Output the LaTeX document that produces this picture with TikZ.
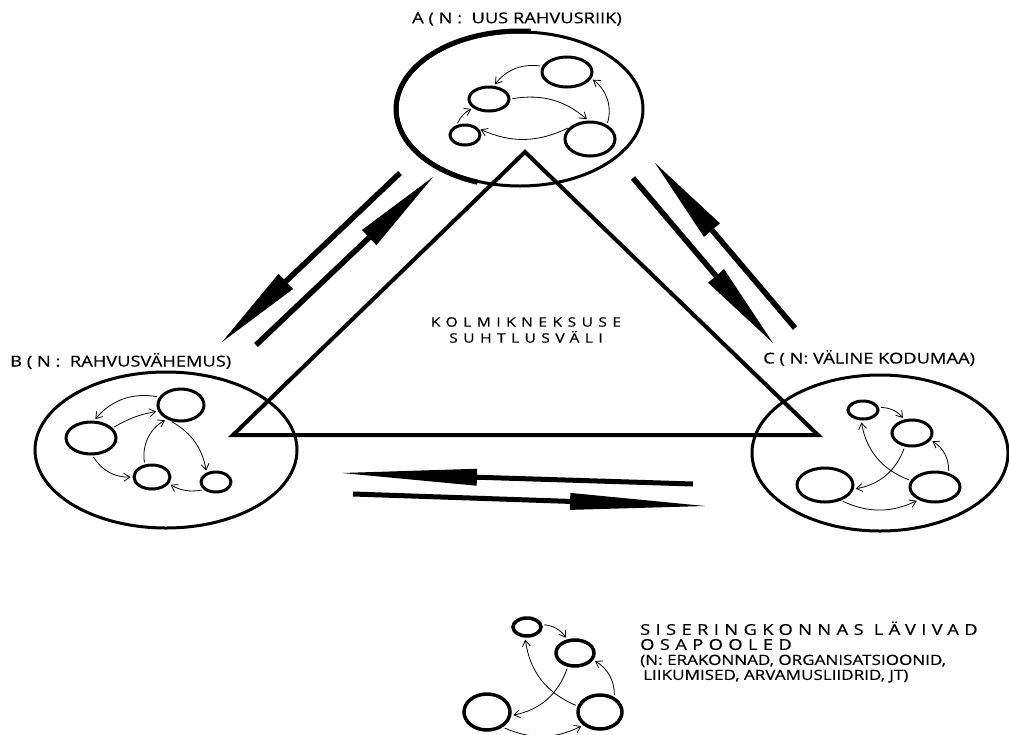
\documentclass[tikz,border=0pt]{standalone}
\usepackage{fontspec}
\usetikzlibrary{shapes.geometric,arrows.meta}
\newfontfamily\labfont[FakeStretch=1.22,FakeBold=0.4]{Open Sans}
\newfontfamily\spacefont[FakeStretch=1.22,FakeBold=0.4,LetterSpace=36]{Open Sans}
\newfontfamily\midfont[FakeStretch=1.2,FakeBold=0.4,LetterSpace=42]{Open Sans}

\tikzset{
  sphere/.style={ellipse, draw, line width=3pt, inner sep=0pt},
  ring/.style={ellipse, draw, line width=3pt, inner sep=0pt},
  swirl/.style={line width=0.8pt, -{Straight Barb[length=6pt,width=8pt]}, shorten <=2pt, shorten >=2pt},
  flow/.style={line width=5.5pt, -{Triangle[length=88pt,width=21pt,line width=0pt]}},
  longflow/.style={line width=5pt, -{Triangle[length=135pt,width=17pt,line width=0pt]}},
  lab/.style={font=\labfont\fontsize{15}{17}\selectfont, inner sep=0pt},
}

\begin{document}
\begin{tikzpicture}[x=1pt, y=1pt]
  \useasboundingbox (0,0) rectangle (1009,-734);

  % the three parties
  \node[sphere, minimum width=246pt, minimum height=154pt] (A) at (520,-109) {};
  \draw[line width=5pt] (A.center) ++(85:124pt and 78pt)
    arc[start angle=85, end angle=250, x radius=124pt, y radius=78pt];
  \node[sphere, minimum width=262pt, minimum height=156pt] (B) at (166,-450) {};
  \node[sphere, minimum width=256pt, minimum height=156pt] (C) at (880,-453) {};

  \node[lab] (Alab) at (517,-19) {A ( N :\ \ UUS RAHVUSRIIK)};
  \node[lab, anchor=west] (Blab) at (10,-361) {B ( N :\ \ RAHVUSVÄHEMUS)};
  \node[lab, anchor=west] (Clab) at (763,-358) {C ( N: VÄLINE KODUMAA)};

  % triangle
  \coordinate (tri-t) at (525,-152);
  \coordinate (tri-l) at (233,-435);
  \coordinate (tri-r) at (818,-435);
  \draw[line width=4pt, line join=miter] (tri-t) -- (tri-l) -- (tri-r) -- cycle;
  \node[font=\midfont\fontsize{13}{16}\selectfont, align=center, inner sep=0pt] (space) at (526,-330)
    {KOLMIKNEKSUSE\\SUHTLUSVÄLI};

  % relations
  \coordinate (ab0) at (400,-173); \coordinate (ab1) at (222,-342);
  \coordinate (ba0) at (256,-345); \coordinate (ba1) at (433,-177);
  \coordinate (ac0) at (633,-178); \coordinate (ac1) at (773,-343);
  \coordinate (ca0) at (795,-328); \coordinate (ca1) at (655,-163);
  \coordinate (cb0) at (693,-484); \coordinate (cb1) at (342,-473);
  \coordinate (bc0) at (353,-494); \coordinate (bc1) at (705,-506);
  \draw[flow] (ab0) -- (ab1);
  \draw[flow] (ba0) -- (ba1);
  \draw[flow] (ac0) -- (ac1);
  \draw[flow] (ca0) -- (ca1);
  \draw[longflow] (cb0) -- (cb1);
  \draw[longflow] (bc0) -- (bc1);

  % inner circles of A
  \node[ring, minimum width=50pt, minimum height=30pt] (A1) at (567,-72) {};
  \node[ring, minimum width=40pt, minimum height=24pt] (A2) at (489,-99) {};
  \node[ring, minimum width=30pt, minimum height=20pt] (A3) at (465,-135) {};
  \node[ring, minimum width=50pt, minimum height=34pt] (A4) at (590,-139) {};
  \draw[swirl] (A1.167) to[bend right=30] (A2.70);
  \draw[swirl] (A2.0) to[bend left=25] (A4.95);
  \draw[swirl] (A4.150) to[bend left=25] (A3.25);
  \draw[swirl] (A4.40) to[bend right=35] (A1.-15);
  \draw[swirl] (A3.130) to[bend left=20] (A2.210);

  % inner circles of B
  \node[ring, minimum width=46pt, minimum height=32pt] (B1) at (181,-405) {};
  \node[ring, minimum width=50pt, minimum height=32pt] (B2) at (91,-438) {};
  \node[ring, minimum width=36pt, minimum height=24pt] (B3) at (152,-477) {};
  \node[ring, minimum width=30pt, minimum height=20pt] (B4) at (216,-482) {};
  \draw[swirl] (B1.160) to[bend right=30] (B2.80);
  \draw[swirl] (B2.25) to[bend left=10] (B1.195);
  \draw[swirl] (B3.120) to[bend left=35] (B1.225);
  \draw[swirl] (B1.235) to[bend left=25] (B4.135);
  \draw[swirl] (B2.-85) to[bend right=30] (B3.180);
  \draw[swirl] (B4.212) to[bend left=20] (B3.-22);

  % inner circles of C
  \node[ring, minimum width=30pt, minimum height=18pt] (C1) at (863,-410) {};
  \node[ring, minimum width=40pt, minimum height=26pt] (C2) at (912,-433) {};
  \node[ring, minimum width=56pt, minimum height=34pt] (C3) at (825,-485) {};
  \node[ring, minimum width=50pt, minimum height=30pt] (C4) at (935,-487) {};
  \draw[swirl] (C1.9) to[bend left=25] (C2.120);
  \draw[swirl] (C4.165) to[bend left=30] (C1.-100);
  \draw[swirl] (C2.242) to[bend left=30] (C3.-8);
  \draw[swirl] (C4.46) to[bend right=30] (C2.-21);
  \draw[swirl] (C3.-44) to[bend right=25] (C4.218);

  % legend
  \node[ring, line width=3.5pt, minimum width=28pt, minimum height=18pt] (L1) at (527,-627) {};
  \node[ring, line width=3.5pt, minimum width=38pt, minimum height=26pt] (L2) at (575,-653) {};
  \node[ring, line width=3.5pt, minimum width=46pt, minimum height=36pt] (L3) at (487,-712) {};
  \node[ring, line width=3.5pt, minimum width=44pt, minimum height=34pt] (L4) at (600,-712) {};
  \draw[swirl] (L1.9) to[bend left=25] (L2.120);
  \draw[swirl] (L4.165) to[bend left=30] (L1.-100);
  \draw[swirl] (L2.242) to[bend left=30] (L3.-8);
  \draw[swirl] (L4.46) to[bend right=30] (L2.-21);
  \draw[swirl] (L3.-44) to[bend right=25] (L4.218);
  \node[font=\labfont\fontsize{14}{15}\selectfont, align=left, anchor=west, inner sep=0pt] (legtext) at (640,-652)
    {{\spacefont\fontsize{15}{15}\selectfont SISERINGKONNAS LÄVIVAD}\\
     {\spacefont\fontsize{15}{15}\selectfont OSAPOOLED}\\
     (N: ERAKONNAD, ORGANISATSIOONID,\\
     \hspace{3pt}LIIKUMISED, ARVAMUSLIIDRID, JT)};
\end{tikzpicture}
\end{document}
